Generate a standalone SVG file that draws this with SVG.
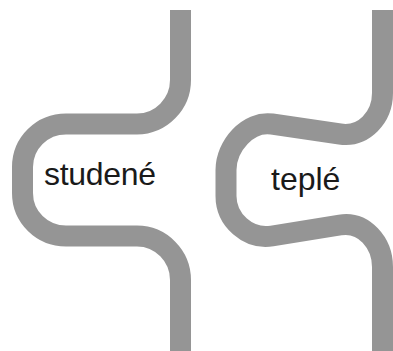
<svg xmlns="http://www.w3.org/2000/svg" width="393" height="351" viewBox="0 0 393 351">
<style>
.pipe{fill:none;stroke:#959595;stroke-width:21;stroke-linecap:butt;stroke-linejoin:round}
.lbl{font-family:"Liberation Sans",Arial,sans-serif;font-size:32px;fill:#1a1a1a}
</style>
<rect width="393" height="351" fill="#ffffff"/>
<g id="cold">
<path class="pipe" d="M180.5,10 V80 C180.5,104 161,124 137,124 H66 C42,124 22.5,143 22.5,167 V193 C22.5,217 42,236 66,236 H137 C161,236 180.5,256 180.5,280 V351"/>
<text class="lbl" x="44" y="185" textLength="112">studené</text>
</g>
<g id="warm">
<path class="pipe" d="M382.5,10 V93 C382.5,117 364,137.5 340,134 L272,124 C248,120.5 226,146 226,170 V196 C226,220 248,239.8 272,236 L340,225 C364,221 382.5,243 382.5,267 V351"/>
<text class="lbl" x="271" y="190">teplé</text>
</g>
</svg>
